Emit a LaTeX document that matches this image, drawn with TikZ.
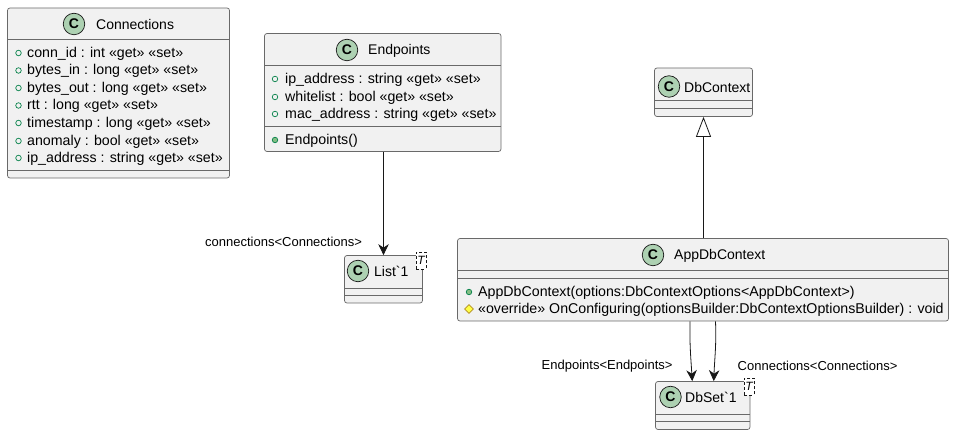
\documentclass[tikz,border=0pt]{standalone}
\usepackage{fontspec}
\setmainfont{Liberation Sans}[Ligatures=TeXOff]
\usetikzlibrary{arrows.meta, shapes.geometric}
\definecolor{edgegrey}{HTML}{181818}
\definecolor{boxfill}{HTML}{F1F1F1}
\definecolor{spotgreen}{HTML}{ADD1B2}
\definecolor{dotgreen}{HTML}{038048}
\definecolor{methodgreen}{HTML}{84BE84}
\definecolor{diamondyellow}{HTML}{FFFF44}
\definecolor{diamondedge}{HTML}{B38D22}
\tikzset{
	classbox/.style={draw=edgegrey!65, line width=0.7pt, fill=boxfill, rounded corners=2.5pt, inner sep=0pt},
	rule/.style={draw=edgegrey!65, line width=0.7pt},
	spot/.style={circle, draw=edgegrey, line width=0.7pt, fill=spotgreen, minimum size=21.5pt, inner sep=0pt, font=\fontsize{14}{14}\selectfont\bfseries},
	title/.style={anchor=west, inner sep=0pt, yshift=-0.7pt, font=\fontsize{14}{16}\selectfont},
	row/.style={anchor=west, inner sep=0pt, yshift=-0.7pt, font=\fontsize{14.2}{16}\selectfont},
	edgelabel/.style={anchor=west, inner sep=0pt, yshift=-0.7pt, font=\fontsize{13}{15}\selectfont},
	field/.style={circle, draw=dotgreen, line width=0.7pt, minimum size=5.5pt, inner sep=0pt},
	method/.style={field, fill=methodgreen},
	protect/.style={diamond, draw=diamondedge, line width=0.7pt, fill=diamondyellow, minimum size=9pt, inner sep=0pt},
	typearg/.style={draw=edgegrey, densely dashed, line width=0.5pt, fill=white, minimum width=9.5pt, minimum height=17pt, inner sep=0pt, font=\fontsize{12}{12}\selectfont\itshape},
	link/.style={draw=edgegrey, line width=0.8pt, -{Stealth[length=11pt, width=10.5pt, inset=3.5pt]}},
	inherit/.style={draw=edgegrey, line width=0.8pt, -{Triangle[open, length=20pt, width=15pt]}},
}
\begin{document}
\begin{tikzpicture}[x=1pt, y=-1pt]
	\useasboundingbox (0,0) rectangle (954,435);

	% Connections
	\node[classbox, minimum width=222pt, minimum height=170pt] (connections) at (118.5,93) {};
	\draw[rule] (connections.west |- 0,39) -- (connections.east |- 0,39);
	\draw[rule] (connections.west |- 0,170) -- (connections.east |- 0,170);
	\node[spot] (connectionsC) at (74,24) {C};
	\node[title] (connectionsT) at (96,24) {Connections};
	\foreach \n/\y/\t in {a/53/conn\_id : int «get» «set»,
		b/70.5/bytes\_in : long «get» «set»,
		c/88/bytes\_out : long «get» «set»,
		d/105.5/rtt : long «get» «set»,
		e/123/timestamp : long «get» «set»,
		f/141/anomaly : bool «get» «set»,
		g/158/ip\_address : string «get» «set»} {
		\node[field] (connDot\n) at (18.5,\y) {};
		\node[row] (connRow\n) at (27,\y) {\t};
	}

	% Endpoints
	\node[classbox, minimum width=236.5pt, minimum height=118pt] (endpoints) at (382.75,92.5) {};
	\draw[rule] (endpoints.west |- 0,65.5) -- (endpoints.east |- 0,65.5);
	\draw[rule] (endpoints.west |- 0,126.5) -- (endpoints.east |- 0,126.5);
	\node[spot] (endpointsC) at (347,50) {C};
	\node[title] (endpointsT) at (368,50) {Endpoints};
	\foreach \n/\y/\t in {a/79/ip\_address : string «get» «set»,
		b/97/whitelist : bool «get» «set»,
		c/114/mac\_address : string «get» «set»} {
		\node[field] (endDot\n) at (275,\y) {};
		\node[row] (endRow\n) at (285,\y) {\t};
	}
	\node[method] (endDotd) at (275,140) {};
	\node[row] (endRowd) at (285,140) {Endpoints()};

	% List`1
	\node[classbox, minimum width=78pt, minimum height=47.5pt] (list) at (383.5,279.25) {};
	\draw[rule] (list.west |- 0,288) -- (list.east |- 0,288);
	\draw[rule] (list.west |- 0,295.5) -- (list.east |- 0,295.5);
	\node[spot] (listC) at (358,271) {C};
	\node[title] (listT) at (374,271) {List\symbol{96}1};
	\node[typearg] (listArg) at (421,260.5) {T};

	% DbContext
	\node[classbox, minimum width=98pt, minimum height=48.5pt] (dbcontext) at (703.5,92.25) {};
	\draw[rule] (dbcontext.west |- 0,100.5) -- (dbcontext.east |- 0,100.5);
	\draw[rule] (dbcontext.west |- 0,108.5) -- (dbcontext.east |- 0,108.5);
	\node[spot] (dbcontextC) at (669,86.5) {C};
	\node[title] (dbcontextT) at (684,86.5) {DbContext};

	% AppDbContext
	\node[classbox, minimum width=491pt, minimum height=82.5pt] (appdb) at (703,279.75) {};
	\draw[rule] (appdb.west |- 0,270.5) -- (appdb.east |- 0,270.5);
	\draw[rule] (appdb.west |- 0,278.5) -- (appdb.east |- 0,278.5);
	\node[spot] (appdbC) at (653,255) {C};
	\node[title] (appdbT) at (674,255) {AppDbContext};
	\node[method] (appDota) at (469,292) {};
	\node[row] (appRowa) at (478,292) {AppDbContext(options:DbContextOptions<AppDbContext>)};
	\node[protect] (appDotb) at (469,309) {};
	\node[row] (appRowb) at (478,309) {«override» OnConfiguring(optionsBuilder:DbContextOptionsBuilder) : void};

	% DbSet`1
	\node[classbox, minimum width=94.5pt, minimum height=48pt] (dbset) at (702.75,405.5) {};
	\draw[rule] (dbset.west |- 0,414) -- (dbset.east |- 0,414);
	\draw[rule] (dbset.west |- 0,421.5) -- (dbset.east |- 0,421.5);
	\node[spot] (dbsetC) at (670.5,397) {C};
	\node[title] (dbsetT) at (685,397) {DbSet\symbol{96}1};
	\node[typearg] (dbsetArg) at (749,386.5) {T};

	% connectors
	\draw[link] (endpoints.south -| list.north) -- (list.north);
	\draw[inherit] (appdb.north -| dbcontext.south) -- (dbcontext.south);
	\draw[link] ([xshift=-13pt]appdb.south) .. controls (689.5,345) and (691,360) .. ([xshift=-10.5pt]dbset.north);
	\draw[link] ([xshift=12.5pt]appdb.south) .. controls (716.5,345) and (714.5,360) .. ([xshift=11pt]dbset.north);

	\node[edgelabel] (listLabel) at (205,241) {connections<Connections>};
	\node[edgelabel] (endpointsLabel) at (541.5,365.5) {Endpoints<Endpoints>};
	\node[edgelabel] (connectionsLabel) at (737.5,365.5) {Connections<Connections>};
\end{tikzpicture}
\end{document}
